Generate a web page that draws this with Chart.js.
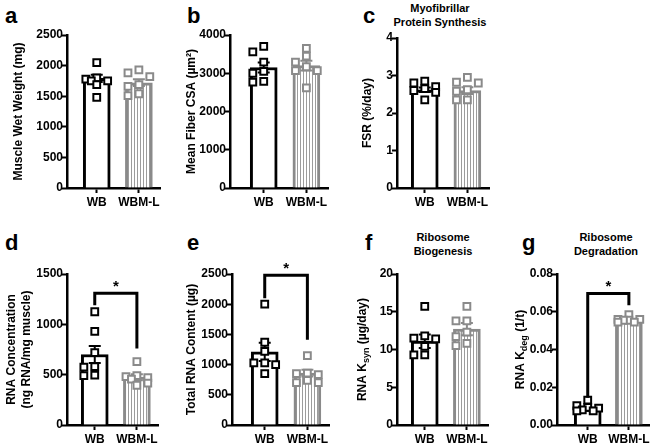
<!DOCTYPE html>
<html><head><meta charset="utf-8">
<script src="https://cdn.jsdelivr.net/npm/chart.js@4.4.1/dist/chart.umd.min.js"></script>
<style>
html,body{margin:0;padding:0;background:#fff;}
#fig{position:relative;width:660px;height:444px;overflow:hidden;font-family:"Liberation Sans",Arial,sans-serif;color:#000;}
#fig canvas{position:absolute;}
.lbl{position:absolute;font-weight:bold;font-size:22px;line-height:22px;}
.ttl{position:absolute;font-weight:bold;font-size:11px;line-height:14px;text-align:center;width:130px;}
</style></head><body><div id="fig"></div>
<script>
// ---------------- data ----------------
const groups = ['WB', 'WBM-L'];

// a  Muscle wet weight (mg)
const wetMean = [1790, 1720];
const wetSem  = [60, 55];
const wetWB   = [2050, 1800, 1780, 1750, 1750, 1690, 1480];
const wetWBML = [1930, 1880, 1820, 1690, 1660, 1540, 1510];

// b  Mean fiber CSA (µm²)
const csaMean = [3150, 3200];
const csaSem  = [130, 130];
const csaWB   = [3700, 3560, 3290, 3050, 3000, 2790, 2770];
const csaWBML = [3650, 3450, 3290, 3170, 3070, 3070, 2620];

// c  Myofibrillar FSR (%/day)
const fsrMean = [2.62, 2.6];
const fsrSem  = [0.06, 0.09];
const fsrWB   = [2.85, 2.8, 2.7, 2.65, 2.6, 2.55, 2.35];
const fsrWBML = [2.95, 2.82, 2.8, 2.62, 2.58, 2.35, 2.35];

// d  RNA concentration (ng RNA/mg muscle)
const concMean = [700, 475];
const concSem  = [85, 30];
const concWB   = [1125, 930, 720, 580, 575, 495, 490];
const concWBML = [630, 490, 480, 470, 455, 415, 395];
const concBracket = [1310, 1190, 760];   // top, WB leg end, WBM-L leg end

// e  Total RNA content (µg)
const totMean = [1210, 860];
const totSem  = [150, 55];
const totWB   = [2000, 1370, 1220, 1030, 1030, 1000, 850];
const totWBML = [1150, 860, 850, 835, 740, 700, 700];
const totBracket = [2480, 2100, 1410];

// f  RNA Ksyn (µg/day)
const ksynMean = [11.1, 12.7];
const ksynSem  = [0.9, 0.8];
const ksynWB   = [15.7, 11.8, 11.5, 11.4, 10.4, 9.3, 9.3];
const ksynWBML = [15.7, 13.8, 13.8, 12.3, 11.7, 10.8, 10.5];

// g  RNA Kdeg (1/t)
const kdegMean = [0.0085, 0.0556];
const kdegSem  = [0.0007, 0.0006];
const kdegWB   = [0.0132, 0.0102, 0.0093, 0.0089, 0.008, 0.0075, 0.0075];
const kdegWBML = [0.0585, 0.056, 0.056, 0.0555, 0.0555, 0.0545, 0.0545];
const kdegBracket = [0.0697, 0.0145, 0.0635];

// ---------------- styling / layout ----------------
const FONT = '"Liberation Sans", Arial, sans-serif';
Chart.defaults.font.family = FONT;
Chart.defaults.color = '#000';
const GRAY = '#8a8a8a';
const STRIPE = '#9c9c9c';

const pc = document.createElement('canvas');
pc.width = 3; pc.height = 4;
const pctx = pc.getContext('2d');
pctx.fillStyle = '#fff'; pctx.fillRect(0, 0, 3, 4);
pctx.fillStyle = STRIPE; pctx.fillRect(0, 0, 1, 4);
const stripes = pctx.createPattern(pc, 'repeat');

const panels = [
  {mean: wetMean, sem: wetSem, wb: wetWB, wbml: wetWBML, ymax: 2500, step: 500, dec: 0,
   title: [[{t: 'Muscle Wet Weight (mg)'}]], titleX: [19],
   axisX: 67, wbX: 97, unit: 42.5, top: 35, bottom: 188},
  {mean: csaMean, sem: csaSem, wb: csaWB, wbml: csaWBML, ymax: 4000, step: 1000, dec: 0,
   title: [[{t: 'Mean Fiber CSA (µm²)'}]], titleX: [192],
   axisX: 230, wbX: 264, unit: 43, top: 35, bottom: 188},
  {mean: fsrMean, sem: fsrSem, wb: fsrWB, wbml: fsrWBML, ymax: 4, step: 1, dec: 0,
   title: [[{t: 'FSR (%/day)'}]], titleX: [368],
   axisX: 397, wbX: 425, unit: 43, top: 38, bottom: 188},
  {mean: concMean, sem: concSem, wb: concWB, wbml: concWBML, ymax: 1500, step: 500, dec: 0,
   title: [[{t: 'RNA Concentration'}], [{t: '(ng RNA/mg muscle)'}]], titleX: [12, 27],
   axisX: 67, wbX: 95, unit: 42.5, top: 274, bottom: 425, bracket: concBracket},
  {mean: totMean, sem: totSem, wb: totWB, wbml: totWBML, ymax: 2500, step: 500, dec: 0,
   title: [[{t: 'Total RNA Content (µg)'}]], titleX: [192],
   axisX: 232, wbX: 265, unit: 43, top: 274, bottom: 425, bracket: totBracket},
  {mean: ksynMean, sem: ksynSem, wb: ksynWB, wbml: ksynWBML, ymax: 20, step: 5, dec: 0,
   title: [[{t: 'RNA K'}, {t: 'syn', sub: true}, {t: ' (µg/day)'}]], titleX: [363],
   axisX: 397, wbX: 425, unit: 42.5, top: 274, bottom: 425},
  {mean: kdegMean, sem: kdegSem, wb: kdegWB, wbml: kdegWBML, ymax: 0.08, step: 0.02, dec: 2,
   title: [[{t: 'RNA K'}, {t: 'deg', sub: true}, {t: ' (1/t)'}]], titleX: [521],
   axisX: 557, wbX: 588, unit: 41.5, top: 274, bottom: 425, bracket: kdegBracket}
];

const letters = [
  ['a', 5, 5], ['b', 187, 5], ['c', 363, 5],
  ['d', 5, 232], ['e', 187, 232], ['f', 365, 232], ['g', 522, 232]
];
const headers = [
  [['Myofibrillar', 'Protein Synthesis'], 440, 1],
  [['Ribosome', 'Biogenesis'], 443, 230],
  [['Ribosome', 'Degradation'], 606, 230]
];

const fig = document.getElementById('fig');
letters.forEach(([t, x, y]) => {
  const d = document.createElement('div');
  d.className = 'lbl'; d.textContent = t;
  d.style.left = x + 'px'; d.style.top = y + 'px';
  fig.appendChild(d);
});
headers.forEach(([lines, cx, y]) => {
  const d = document.createElement('div');
  d.className = 'ttl';
  d.innerHTML = lines.join('<br>');
  d.style.left = (cx - 65) + 'px'; d.style.top = y + 'px';
  fig.appendChild(d);
});

// place points like a scatter-dot plot: spread points that overlap
function swarm(values, pxPerVal, unit) {
  const placed = [];
  const cand = [0, -11, 11, -5.5, 5.5];
  return values.map(v => {
    const py = v * pxPerVal;
    let best = 0, bestScore = -1;
    for (const c of cand) {
      let s = Infinity;
      placed.forEach(p => { s = Math.min(s, Math.max(Math.abs(p.x - c), Math.abs(p.y - py))); });
      if (s >= 7) { best = c; bestScore = s; break; }
      if (s > bestScore) { bestScore = s; best = c; }
    }
    placed.push({x: best, y: py});
    return best / unit;
  });
}

function makeChart(p) {
  const W = 62, PT = 24, PR = 6, XH = 30;
  const xmin = 1 - (p.wbX - p.axisX) / p.unit;
  const plotW = Math.round(1.5 * p.unit + (p.wbX - p.axisX));
  const xmax = xmin + plotW / p.unit;
  const plotH = p.bottom - p.top;
  const cw = W + plotW + PR, ch = PT + plotH + XH;
  const cv = document.createElement('canvas');
  cv.width = cw; cv.height = ch;
  cv.style.width = cw + 'px'; cv.style.height = ch + 'px';
  cv.style.left = (p.axisX - W) + 'px'; cv.style.top = (p.top - PT) + 'px';
  fig.appendChild(cv);

  const pxPerVal = plotH / p.ymax;
  const jWB = swarm(p.wb, pxPerVal, p.unit);
  const jML = swarm(p.wbml, pxPerVal, p.unit);
  const titleXs = p.titleX.map(x => x - (p.axisX - W));

  const pointStyle = (col) => ({
    type: 'scatter', order: 1, pointStyle: 'rect', pointRadius: 4.8, pointBorderWidth: 2,
    borderColor: col, backgroundColor: '#fff', pointBackgroundColor: '#fff', pointBorderColor: col,
    showLine: false, clip: false
  });

  const plugins = [
    { id: 'errbars', afterDatasetDraw(chart, args) {
        if (args.index !== 0) return;
        const {ctx, scales: {x, y}} = chart;
        p.mean.forEach((m, i) => {
          const px = x.getPixelForValue(i + 1);
          const hi = y.getPixelForValue(m + p.sem[i]);
          const lo = y.getPixelForValue(m - p.sem[i]);
          ctx.save();
          ctx.strokeStyle = i === 0 ? '#000' : GRAY; ctx.lineWidth = 2;
          ctx.beginPath();
          ctx.moveTo(px, hi); ctx.lineTo(px, lo);
          ctx.moveTo(px - 6, hi); ctx.lineTo(px + 6, hi);
          ctx.moveTo(px - 6, lo); ctx.lineTo(px + 6, lo);
          ctx.stroke(); ctx.restore();
        });
    }},
    { id: 'extras', afterDraw(chart) {
        const {ctx, chartArea: a, scales: {x, y}} = chart;
        // rotated y-axis title with optional subscripts
        const cy = (a.top + a.bottom) / 2;
        p.title.forEach((runs, li) => {
          ctx.save();
          ctx.translate(titleXs[li], cy); ctx.rotate(-Math.PI / 2);
          ctx.fillStyle = '#000'; ctx.textBaseline = 'middle'; ctx.textAlign = 'left';
          const fonts = runs.map(r => r.sub ? 'bold 9px ' + FONT : 'bold 12px ' + FONT);
          const ws = runs.map((r, i) => { ctx.font = fonts[i]; return ctx.measureText(r.t).width; });
          let tx = -ws.reduce((s, w) => s + w, 0) / 2;
          runs.forEach((r, i) => { ctx.font = fonts[i]; ctx.fillText(r.t, tx, r.sub ? 3.5 : 0); tx += ws[i]; });
          ctx.restore();
        });
        // significance bracket
        if (p.bracket) {
          const [top, l, r] = p.bracket;
          const xl = x.getPixelForValue(1), xr = x.getPixelForValue(2);
          const yt = y.getPixelForValue(top);
          ctx.save();
          ctx.strokeStyle = '#000'; ctx.lineWidth = 3; ctx.lineJoin = 'miter';
          ctx.beginPath();
          ctx.moveTo(xl, y.getPixelForValue(l)); ctx.lineTo(xl, yt);
          ctx.lineTo(xr, yt); ctx.lineTo(xr, y.getPixelForValue(r));
          ctx.stroke();
          ctx.fillStyle = '#000'; ctx.font = 'bold 15px ' + FONT;
          ctx.textAlign = 'center'; ctx.textBaseline = 'alphabetic';
          ctx.fillText('*', x.getPixelForValue(1.5), yt - 2);
          ctx.restore();
        }
    }}
  ];

  new Chart(cv, {
    type: 'bar',
    data: {
      datasets: [
        { type: 'bar', order: 2,
          data: groups.map((g, i) => ({x: i + 1, y: p.mean[i]})),
          backgroundColor: ['#fff', stripes], borderColor: ['#000', GRAY],
          borderWidth: 3, barThickness: 27, borderSkipped: 'start' },
        Object.assign(pointStyle('#000'), { data: p.wb.map((v, i) => ({x: 1 + jWB[i], y: v})) }),
        Object.assign(pointStyle(GRAY), { data: p.wbml.map((v, i) => ({x: 2 + jML[i], y: v})) })
      ]
    },
    options: {
      responsive: false, animation: false, devicePixelRatio: 1,
      layout: { padding: { top: PT, right: PR, left: 0, bottom: 0 } },
      plugins: { legend: { display: false }, tooltip: { enabled: false } },
      scales: {
        x: {
          type: 'linear', min: xmin, max: xmax, offset: false,
          grid: { drawOnChartArea: false, drawTicks: true, tickLength: 5, tickWidth: 2, tickColor: '#000', offset: false },
          border: { display: true, color: '#000', width: 2.5 },
          ticks: { font: { weight: 'bold', size: 12 }, color: '#000', padding: 2, autoSkip: false, maxRotation: 0,
                   callback: v => groups[Math.round(v) - 1] || '' },
          afterBuildTicks: s => { s.ticks = [{value: 1}, {value: 2}]; },
          afterFit: s => { s.height = XH; }
        },
        y: {
          type: 'linear', min: 0, max: p.ymax,
          grid: { drawOnChartArea: false, tickLength: 5, tickWidth: 2, tickColor: '#000' },
          border: { display: true, color: '#000', width: 2.5 },
          ticks: { stepSize: p.step, font: { weight: 'bold', size: 12 }, color: '#000', padding: -1,
                   callback: v => p.dec ? Number(v).toFixed(p.dec) : String(Math.round(v)) },
          afterFit: s => { s.width = W; }
        }
      }
    },
    plugins
  });
}

panels.forEach(makeChart);
</script>
</body></html>
